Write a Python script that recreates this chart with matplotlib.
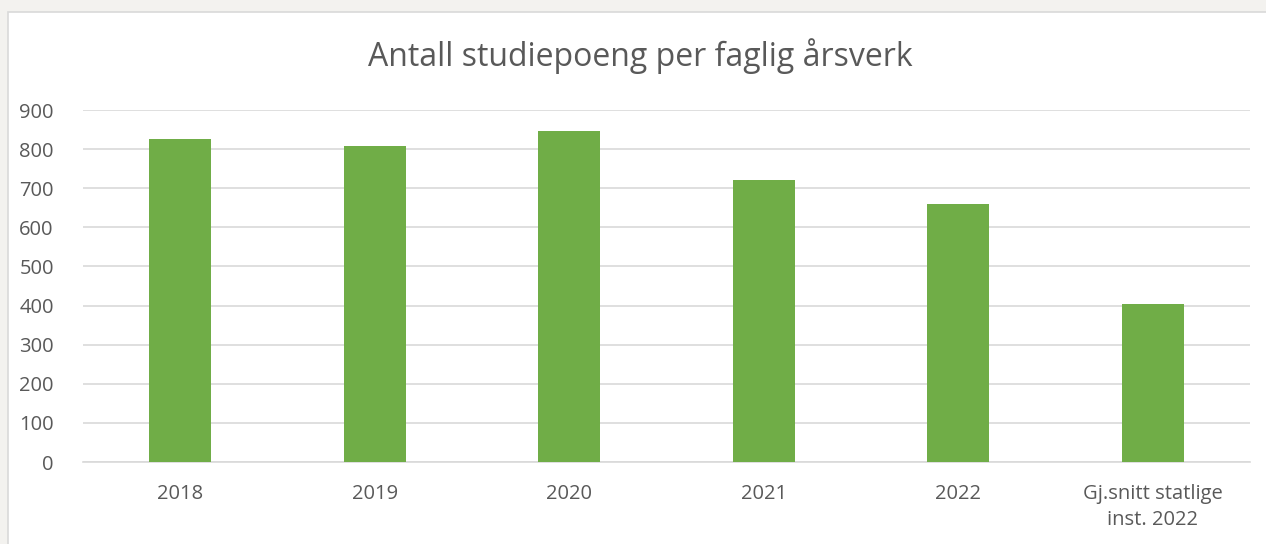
import matplotlib.pyplot as plt
from matplotlib.patches import Rectangle

categories = ['2018', '2019', '2020', '2021', '2022', 'Gj.snitt statlige\ninst. 2022']
values = [825, 808, 846, 721, 660, 404]
yticks = [0, 100, 200, 300, 400, 500, 600, 700, 800, 900]

W, H = 1266, 544
fig = plt.figure(figsize=(W / 100, H / 100), dpi=100)
fig.patch.set_facecolor('#f3f2ef')
plt.rcParams['font.family'] = ['Open Sans', 'DejaVu Sans']

# white chart panel with light border
panel = Rectangle((8 / W, -0.05), 1.2, 1 - 11.5 / H + 0.05, transform=fig.transFigure,
                  facecolor='white', edgecolor='#d9d9d9', linewidth=1.2, zorder=-1)
fig.patches.append(panel)

ax = fig.add_axes([83 / W, 1 - 462 / H, (1250 - 83) / W, (462 - 110) / H])
ax.set_zorder(1)
ax.set_facecolor('none')
x = range(len(categories))
ax.bar(x, values, width=0.32, color='#70ad47', zorder=3)
ax.set_xlim(-0.5, len(categories) - 0.5)
ax.set_ylim(0, 900)
ax.set_yticks(yticks)
ax.set_xticks(list(x))
ax.set_xticklabels(categories, fontsize=14.5, color='#595959', linespacing=1.4)
ax.tick_params(axis='y', labelsize=14.5, labelcolor='#595959', length=0, pad=21)
ax.tick_params(axis='x', length=0, pad=16)
ax.grid(axis='y', color='#d9d9d9', linewidth=1.2, zorder=0)
for s in ['top', 'right', 'left']:
    ax.spines[s].set_visible(False)
ax.spines['bottom'].set_color('#d9d9d9')
ax.spines['bottom'].set_linewidth(1.2)

fig.text(640 / W, 1 - 56 / H, 'Antall studiepoeng per faglig årsverk', ha='center', va='center',
         fontsize=23, color='#595959', zorder=2)

fig.savefig('out.png', dpi=100, facecolor=fig.get_facecolor())
